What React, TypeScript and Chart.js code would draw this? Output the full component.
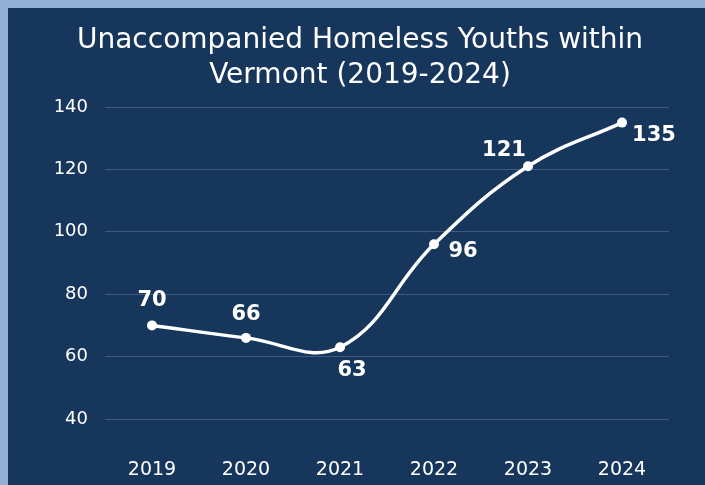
import React, { useEffect, useRef } from "react";
import { Chart, registerables } from "chart.js";

Chart.register(...registerables);

const years = ["2019", "2020", "2021", "2022", "2023", "2024"];
const youths = [70, 66, 63, 96, 121, 135];
const yTicks = [40, 60, 80, 100, 120, 140];
const titleLines = ["Unaccompanied Homeless Youths within", "Vermont (2019-2024)"];
// label offsets (dx, dy) relative to each point
const labelDx = [0, 0, 12, 29, -24, 32];
const labelDy = [-25, -23, 23, 7, -16, 13];

const NAVY = "#17365c";
const FONT = "'DejaVu Sans', sans-serif";

const titlePlugin = {
  id: "customTitle",
  afterDraw(chart: any) {
    const ctx = chart.ctx;
    ctx.save();
    ctx.fillStyle = "#ffffff";
    ctx.font = `28px ${FONT}`;
    ctx.textAlign = "center";
    ctx.textBaseline = "middle";
    titleLines.forEach((t, i) => ctx.fillText(t, 352, 33 + i * 35));
    ctx.restore();
  },
};

const labelPlugin = {
  id: "pointLabels",
  afterDatasetsDraw(chart: any) {
    const ctx = chart.ctx;
    const meta = chart.getDatasetMeta(0);
    ctx.save();
    ctx.fillStyle = "#ffffff";
    ctx.font = `bold 21px ${FONT}`;
    ctx.textAlign = "center";
    ctx.textBaseline = "middle";
    meta.data.forEach((pt: any, i: number) => {
      ctx.fillText(String(youths[i]), pt.x + labelDx[i], pt.y + labelDy[i]);
    });
    ctx.restore();
  },
};

export default function App() {
  const ref = useRef<HTMLCanvasElement>(null);
  useEffect(() => {
    document.body.style.background = "#93afd6";
    document.documentElement.style.background = "#93afd6";
    document.body.style.overflow = "hidden";
    const chart = new Chart(ref.current!, {
      type: "line",
      data: {
        labels: years,
        datasets: [
          {
            data: youths,
            borderColor: "#ffffff",
            backgroundColor: "#ffffff",
            borderWidth: 3.5,
            pointRadius: 5,
            pointBackgroundColor: "#ffffff",
            pointBorderWidth: 0,
            tension: 0.4,
          },
        ],
      },
      options: {
        animation: false,
        responsive: false,
        layout: { padding: { top: 99, right: 36, left: 0, bottom: 0 } },
        plugins: {
          legend: { display: false },
          tooltip: { enabled: false },
          title: { display: false },
        },
        scales: {
          x: {
            offset: true,
            grid: { display: false },
            border: { display: false },
            ticks: { color: "#ffffff", font: { family: FONT, size: 19 }, padding: 32 },
            afterFit: (s: any) => {
              s.height = 66;
            },
          },
          y: {
            min: 40,
            max: 140,
            afterBuildTicks: (s: any) => {
              s.ticks = yTicks.map((v) => ({ value: v }));
            },
            grid: { color: "#3f5c80", lineWidth: 1, drawTicks: false },
            border: { display: false },
            ticks: { color: "#ffffff", font: { family: FONT, size: 18 }, padding: 17 },
            afterFit: (s: any) => {
              s.width = 97;
            },
          },
        },
      },
      plugins: [labelPlugin, titlePlugin],
    });
    return () => chart.destroy();
  }, []);
  return (
    <div
      style={{
        position: "fixed",
        left: 8,
        top: 8,
        right: 0,
        bottom: 0,
        background: NAVY,
        overflow: "hidden",
      }}
    >
      <canvas ref={ref} width={697} height={477} style={{ display: "block" }} />
    </div>
  );
}
